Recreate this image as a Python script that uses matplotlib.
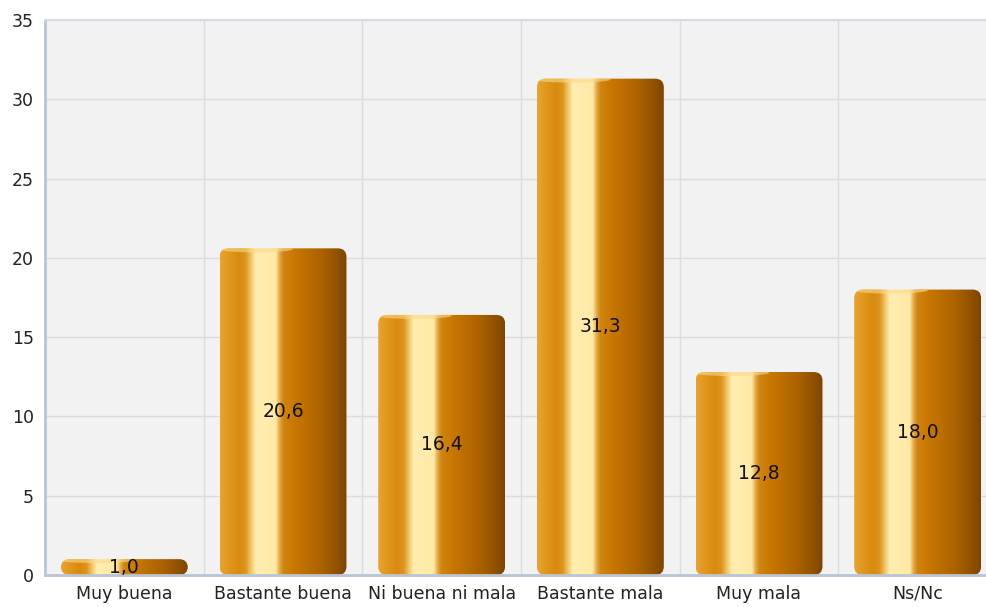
import numpy as np
import matplotlib
matplotlib.use("Agg")
import matplotlib.pyplot as plt
from matplotlib.colors import LinearSegmentedColormap
from matplotlib.patches import FancyBboxPatch, Ellipse

categories = ['Muy buena', 'Bastante buena', 'Ni buena ni mala', 'Bastante mala', 'Muy mala', 'Ns/Nc']
values = [1.0, 20.6, 16.4, 31.3, 12.8, 18.0]
y_ticks = [0, 5, 10, 15, 20, 25, 30, 35]

# golden cylinder look: horizontal gradient across each bar
gold = LinearSegmentedColormap.from_list('gold', [
    (0.00, '#E8A434'),
    (0.05, '#E29B22'),
    (0.15, '#D98A0E'),
    (0.20, '#DC9420'),
    (0.25, '#F4CD72'),
    (0.28, '#FFEDB2'),
    (0.44, '#FFE9A6'),
    (0.47, '#E4A844'),
    (0.50, '#D08410'),
    (0.60, '#C67600'),
    (0.80, '#AC6200'),
    (0.92, '#915200'),
    (1.00, '#7E4500'),
])
grad = np.linspace(0, 1, 256).reshape(1, -1)

fig = plt.figure(figsize=(9.86, 6.07), dpi=100)
ax = fig.add_axes([45 / 986, 32 / 607, 952 / 986, 555 / 607])
ax.set_facecolor('#F2F2F2')

x = np.arange(len(categories))
width = 0.8
ax.set_xlim(-0.5, len(categories) - 0.5)
ax.set_ylim(0, 35)

# px per data unit, used to keep the corner rounding circular
px_x = 952 / len(categories)
px_y = 555 / 35
aspect = px_x / px_y

bars = ax.bar(x, values, width=width, color='none', edgecolor='none', zorder=2)
for b, v in zip(bars, values):
    x0 = b.get_x()
    w = b.get_width()
    clip = FancyBboxPatch((x0, 0), w, v, boxstyle='round,pad=0,rounding_size=0.055',
                          mutation_aspect=aspect, transform=ax.transData,
                          facecolor='none', edgecolor='none')
    ax.add_patch(clip)
    im = ax.imshow(grad, cmap=gold, aspect='auto', extent=(x0, x0 + w, 0, v),
                   interpolation='bicubic', zorder=2)
    im.set_clip_path(clip)
    # light crescent on the top rim
    top = Ellipse((x0 + w * 0.28, v - 0.05), w * 0.6, 0.4, facecolor='#FBD98A',
                  edgecolor='none', alpha=0.6, zorder=3)
    ax.add_patch(top)
    top.set_clip_path(clip)

for xi, v in zip(x, values):
    ax.text(xi, v / 2, f'{v:.1f}'.replace('.', ','), ha='center', va='center',
            fontsize=13.5, color='#111111', zorder=4)

ax.set_xticks(x)
ax.set_xticklabels(categories, fontsize=12.5, color='#222222')
ax.set_yticks(y_ticks)
ax.set_yticklabels([str(t) for t in y_ticks], fontsize=12.5, color='#222222')
ax.tick_params(length=0, pad=8)
ax.tick_params(axis='x', pad=7)

ax.set_xticks(np.arange(0.5, len(categories) - 0.5, 1), minor=True)
ax.grid(True, which='minor', axis='x', color='#DCDCDC', linewidth=1, zorder=0)
ax.grid(True, which='major', axis='y', color='#DCDCDC', linewidth=1, zorder=0)
ax.tick_params(which='minor', length=0)
ax.set_axisbelow(True)

ax.spines['left'].set_color('#B9C5D6')
ax.spines['left'].set_linewidth(2)
ax.spines['bottom'].set_color('#B9C5D6')
ax.spines['bottom'].set_linewidth(2)
ax.spines['top'].set_color('#D5DBE4')
ax.spines['top'].set_linewidth(1.5)
ax.spines['right'].set_visible(False)

fig.savefig('out.png', dpi=100, facecolor='white')
